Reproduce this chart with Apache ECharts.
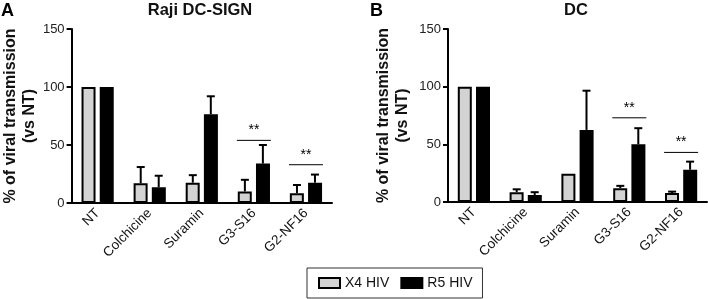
<!DOCTYPE html>
<html>
<head>
<meta charset="utf-8">
<script src="https://cdn.jsdelivr.net/npm/echarts@6/dist/echarts.min.js"></script>
<style>
  html, body { margin: 0; padding: 0; background: #fff; }
  #chart { width: 708px; height: 299px; }
</style>
</head>
<body>
<div id="chart"></div>
<script>
// categories and values
const categories = ['NT', 'Colchicine', 'Suramin', 'G3-S16', 'G2-NF16'];
const yTicks = [0, 50, 100, 150];

// panel A: Raji DC-SIGN
const rajiX4 = [100, 17, 17.5, 10, 8.5];
const rajiX4Err = [0, 14, 6.5, 10, 7];
const rajiR5 = [100, 13.5, 76.5, 34, 17.5];
const rajiR5Err = [0, 10, 15.5, 16, 7];
const rajiSig = [[3, 54], [4, 33]];

// panel B: DC
const dcX4 = [100, 8.5, 24.5, 12, 7.8];
const dcX4Err = [0, 2.5, 0, 2, 1.2];
const dcR5 = [100, 6, 62.5, 50, 28];
const dcR5Err = [0, 2.5, 34, 14, 7];
const dcSig = [[3, 73], [4, 43]];

const chart = echarts.init(document.getElementById('chart'));
const font = 'Liberation Sans, Arial, sans-serif';

function errorSeries(name, vals, errs, grid, offset) {
    return {
        name: name + ' err',
        type: 'custom',
        xAxisIndex: grid,
        yAxisIndex: grid,
        z: 5,
        silent: true,
        data: vals.map((v, i) => [i, v, errs[i]]),
        renderItem: (params, api) => {
            const err = api.value(2);
            if (!err) return null;
            const p0 = api.coord([api.value(0), api.value(1)]);
            const p1 = api.coord([api.value(0), api.value(1) + err]);
            const x = p0[0] + offset;
            const st = { stroke: '#000', lineWidth: 2 };
            return {
                type: 'group',
                children: [
                    { type: 'line', shape: { x1: x, y1: p0[1], x2: x, y2: p1[1] }, style: st },
                    { type: 'line', shape: { x1: x - 4, y1: p1[1], x2: x + 4, y2: p1[1] }, style: st }
                ]
            };
        }
    };
}

function sigSeries(sig, grid) {
    return {
        name: 'sig' + grid,
        type: 'custom',
        xAxisIndex: grid,
        yAxisIndex: grid,
        z: 5,
        silent: true,
        data: sig,
        renderItem: (params, api) => {
            const p = api.coord([api.value(0), api.value(1)]);
            return {
                type: 'group',
                children: [
                    { type: 'line', shape: { x1: p[0] - 17, y1: p[1], x2: p[0] + 17, y2: p[1] },
                      style: { stroke: '#000', lineWidth: 1 } },
                    { type: 'text', x: p[0], y: p[1] - 3,
                      style: { text: '**', fill: '#000', font: '14px ' + font, align: 'center', verticalAlign: 'bottom' } }
                ]
            };
        }
    };
}

function barSeries(name, vals, grid, color) {
    return {
        name: name,
        type: 'bar',
        xAxisIndex: grid,
        yAxisIndex: grid,
        data: vals,
        barWidth: 14,
        barGap: '30%',
        itemStyle: { color: color, borderColor: '#000', borderWidth: 2 }
    };
}

const grids = [
    { left: 70, right: 376, top: 29, bottom: 96 },
    { left: 448, right: 1, top: 29, bottom: 97 }
];

const xAxes = grids.map((g, i) => ({
    type: 'category',
    gridIndex: i,
    data: categories,
    axisLine: { lineStyle: { color: '#000', width: 2 } },
    axisTick: { alignWithLabel: true, length: 5, lineStyle: { color: '#000', width: 2 } },
    axisLabel: { rotate: 45, fontSize: 13.5, color: '#111', fontFamily: font, margin: 8 }
}));

const yAxes = grids.map((g, i) => ({
    type: 'value',
    gridIndex: i,
    min: yTicks[0],
    max: yTicks[yTicks.length - 1],
    interval: 50,
    name: '% of viral transmission\n(vs NT)',
    nameLocation: 'middle',
    nameRotate: 90,
    nameGap: i === 0 ? 31 : 36,
    nameTextStyle: { fontSize: 16, fontWeight: 'bold', color: '#111', fontFamily: font, lineHeight: 19 },
    axisLine: { show: true, lineStyle: { color: '#000', width: 2 } },
    axisTick: { show: true, length: 5, lineStyle: { color: '#000', width: 2 } },
    axisLabel: { fontSize: 13, color: '#222', fontFamily: font, margin: 7 },
    splitLine: { show: false }
}));

const option = {
    animation: false,
    backgroundColor: '#fff',
    grid: grids,
    xAxis: xAxes,
    yAxis: yAxes,
    legend: {
        data: ['X4 HIV', 'R5 HIV'],
        left: 307,
        top: 268,
        orient: 'horizontal',
        icon: 'rect',
        itemWidth: 21,
        itemHeight: 10,
        itemGap: 11,
        padding: [8, 10, 8, 11],
        borderColor: '#333',
        borderWidth: 1,
        textStyle: { fontSize: 14, color: '#111', fontFamily: font }
    },
    graphic: [
        { type: 'text', left: 1, top: 2, style: { text: 'A', font: 'bold 18px ' + font, fill: '#000' } },
        { type: 'text', left: 370, top: 2, style: { text: 'B', font: 'bold 18px ' + font, fill: '#000' } },
        { type: 'text', x: 200, y: 10, style: { text: 'Raji DC-SIGN', font: 'bold 16.5px ' + font, fill: '#111', align: 'center', verticalAlign: 'middle' } },
        { type: 'text', x: 576, y: 10, style: { text: 'DC', font: 'bold 16.5px ' + font, fill: '#111', align: 'center', verticalAlign: 'middle' } }
    ],
    series: [
        barSeries('X4 HIV', rajiX4, 0, '#d3d3d3'),
        barSeries('R5 HIV', rajiR5, 0, '#000'),
        barSeries('X4 HIV', dcX4, 1, '#d3d3d3'),
        barSeries('R5 HIV', dcR5, 1, '#000'),
        errorSeries('X4 A', rajiX4, rajiX4Err, 0, -9),
        errorSeries('R5 A', rajiR5, rajiR5Err, 0, 9),
        errorSeries('X4 B', dcX4, dcX4Err, 1, -9),
        errorSeries('R5 B', dcR5, dcR5Err, 1, 9),
        sigSeries(rajiSig, 0),
        sigSeries(dcSig, 1)
    ]
};

chart.setOption(option);
window.addEventListener('resize', () => chart.resize());
</script>
</body>
</html>
